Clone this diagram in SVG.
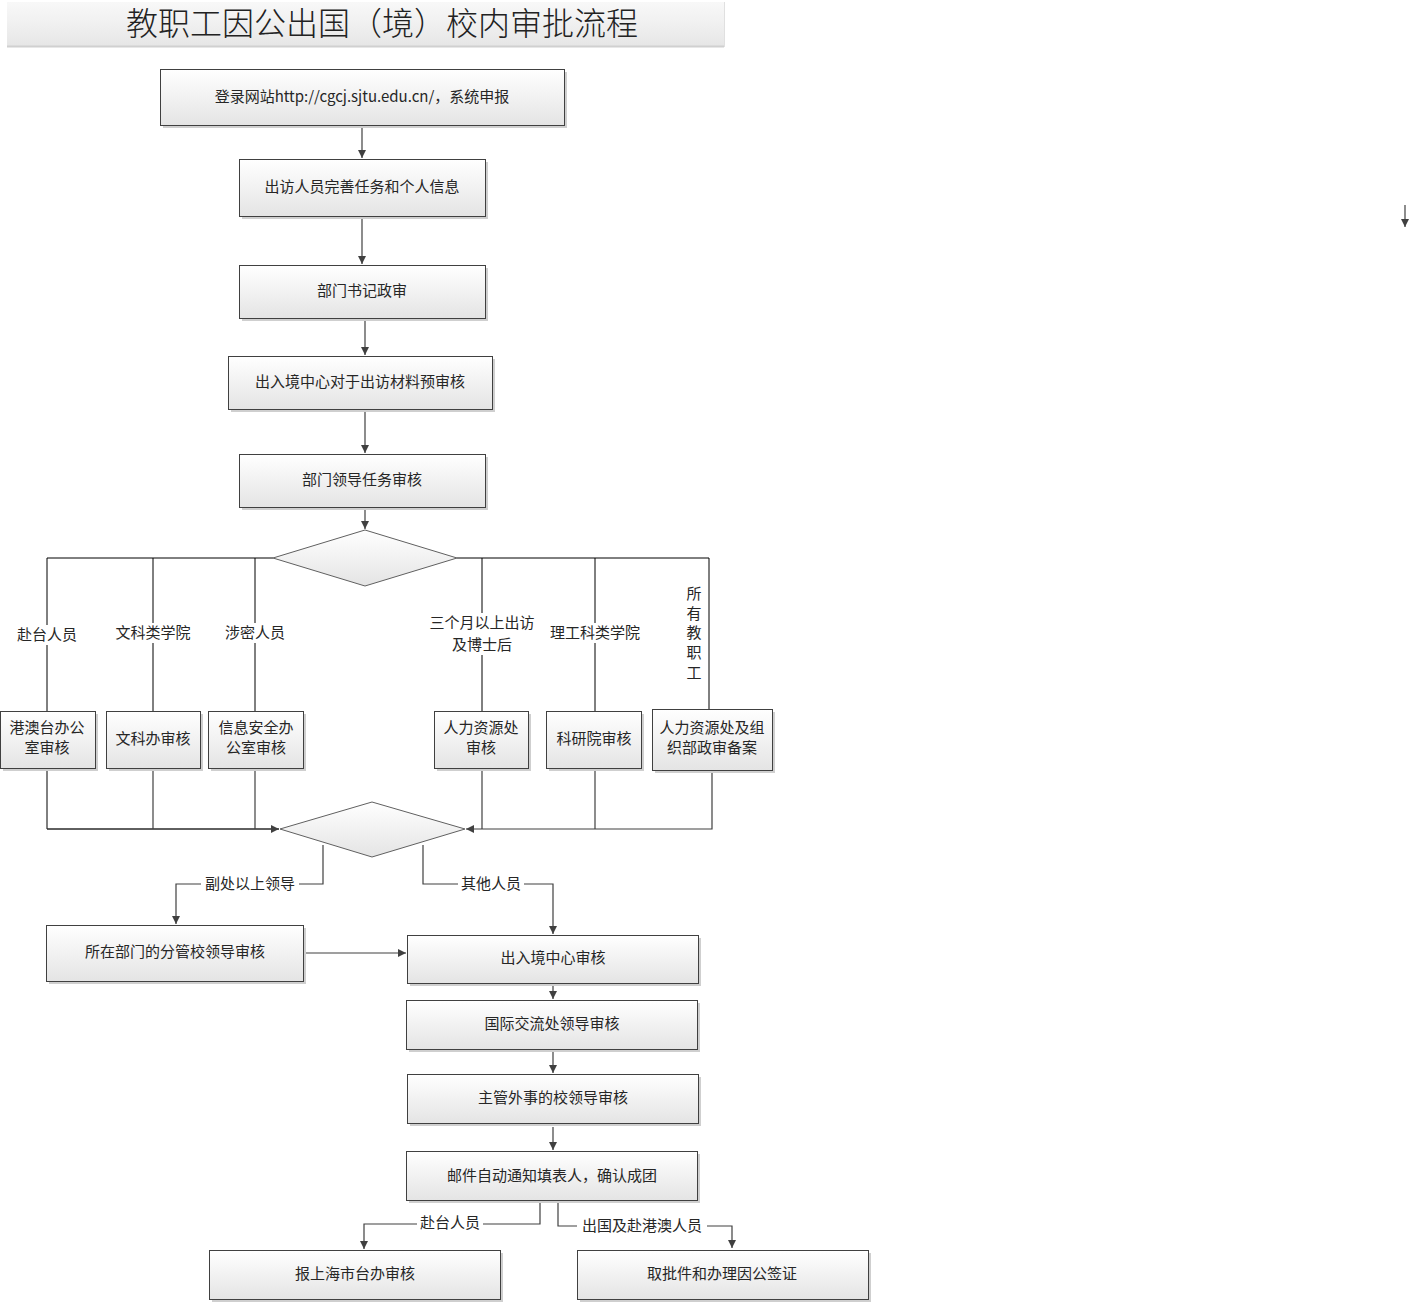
<svg xmlns="http://www.w3.org/2000/svg" width="1411" height="1302" viewBox="0 0 1411 1302">
<defs>
<linearGradient id="gb" x1="0" y1="0" x2="0" y2="1">
<stop offset="0" stop-color="#ffffff"/><stop offset="1" stop-color="#e4e4e4"/>
</linearGradient>
<linearGradient id="gt" x1="0" y1="0" x2="0" y2="1">
<stop offset="0" stop-color="#f8f8f8"/><stop offset="0.5" stop-color="#f0f0f0"/><stop offset="1" stop-color="#e6e6e6"/>
</linearGradient>
<marker id="ah" markerWidth="10" markerHeight="10" refX="8" refY="4" orient="auto" markerUnits="userSpaceOnUse">
<path d="M0,0 L8,4 L0,8 Z" fill="#404040"/>
</marker>
<style>
.box{fill:url(#gb);stroke:#404040;stroke-width:1}
.sh{fill:#cfcfcf}
.dia{fill:url(#gb);stroke:#606060;stroke-width:1}
.t{font-family:"Noto Sans CJK SC","Liberation Sans",sans-serif;font-size:15px;fill:#262626;text-anchor:middle;dominant-baseline:central;transform:translateY(-1.5px)}
.c{fill:none;stroke:#404040;stroke-width:1.2}
.k{fill:none;stroke:#000;stroke-width:1}
.a{marker-end:url(#ah)}
.lb{fill:#fff}
</style>
</defs>
<rect width="1411" height="1302" fill="#fff"/>
<g id="title">
<rect x="7" y="2" width="717" height="44" fill="url(#gt)"/>
<line x1="7" y1="46.5" x2="724" y2="46.5" stroke="#d0d0d0" stroke-width="2"/>
<line x1="724.5" y1="2" x2="724.5" y2="47" stroke="#e0e0e0" stroke-width="1"/>
<text x="382" y="21" style="font-family:'Noto Sans CJK SC','Noto Serif CJK SC',serif;font-size:32px;fill:#222;text-anchor:middle;dominant-baseline:central;font-weight:300">教职工因公出国（境）校内审批流程</text>
</g>

<g id="connectors">
<line class="c a" x1="362" y1="125" x2="362" y2="158"/>
<line class="c a" x1="362" y1="216" x2="362" y2="264"/>
<line class="c a" x1="365" y1="320" x2="365" y2="355"/>
<line class="c a" x1="365" y1="409" x2="365" y2="453"/>
<line class="c a" x1="365" y1="507" x2="365" y2="529"/>
<polyline class="k" points="273,558 47,558 47,711"/>
<line class="k" x1="153" y1="558" x2="153" y2="711"/>
<line class="k" x1="255" y1="558" x2="255" y2="711"/>
<polyline class="k" points="457,558 709,558 709,709"/>
<line class="k" x1="482" y1="558" x2="482" y2="711"/>
<line class="k" x1="595" y1="558" x2="595" y2="711"/>
<rect class="lb" x="14" y="625" width="66" height="20"/>
<rect class="lb" x="112" y="623" width="82" height="20"/>
<rect class="lb" x="222" y="623" width="66" height="20"/>
<rect class="lb" x="425" y="613" width="114" height="42"/>
<rect class="lb" x="546" y="623" width="98" height="20"/>
<rect class="lb" x="685" y="584" width="18" height="100"/>
<polyline class="k" points="47,768 47,829 279,829"/>
<polyline class="c a" points="47,829 279,829"/>
<line class="c" x1="153" y1="768" x2="153" y2="829"/>
<line class="c" x1="255" y1="768" x2="255" y2="829"/>
<polyline class="c a" points="712,770 712,829 466,829"/>
<line class="c" x1="482" y1="768" x2="482" y2="829"/>
<line class="c" x1="595" y1="768" x2="595" y2="829"/>
<polyline class="c a" points="323,845 323,884 176,884 176,924"/>
<polyline class="c a" points="423,845 423,884 553,884 553,934"/>
<rect class="lb" x="201" y="874" width="98" height="20"/>
<rect class="lb" x="458" y="874" width="66" height="20"/>
<line class="c a" x1="303" y1="953" x2="406" y2="953"/>
<line class="c a" x1="553" y1="983" x2="553" y2="999"/>
<line class="c a" x1="553" y1="1049" x2="553" y2="1073"/>
<line class="c a" x1="553" y1="1127" x2="553" y2="1150"/>
<polyline class="c a" points="540,1200 540,1224 364,1224 364,1249"/>
<polyline class="c a" points="558,1200 558,1226 732,1226 732,1248"/>
<rect class="lb" x="417" y="1213" width="66" height="20"/>
<rect class="lb" x="577" y="1216" width="130" height="20"/>
<line class="c a" x1="1405" y1="205" x2="1405" y2="227"/>
</g>

<g id="labels">
<text class="t" x="47" y="635">赴台人员</text>
<text class="t" x="153" y="633">文科类学院</text>
<text class="t" x="255" y="633">涉密人员</text>
<text class="t" x="482" y="623">三个月以上出访</text>
<text class="t" x="482" y="645">及博士后</text>
<text class="t" x="595" y="633">理工科类学院</text>
<text class="t" x="694" y="594">所</text>
<text class="t" x="694" y="614">有</text>
<text class="t" x="694" y="633">教</text>
<text class="t" x="694" y="653">职</text>
<text class="t" x="694" y="673">工</text>
<text class="t" x="250" y="884">副处以上领导</text>
<text class="t" x="491" y="884">其他人员</text>
<text class="t" x="450" y="1223">赴台人员</text>
<text class="t" x="642" y="1226">出国及赴港澳人员</text>
</g>

<g id="n1"><rect class="sh" x="163" y="72" width="404" height="56"/><rect class="box" x="160.5" y="69.5" width="404" height="56"/><text class="t" x="362" y="97">登录网站http://cgcj.sjtu.edu.cn/，系统申报</text></g>
<g id="n2"><rect class="sh" x="242" y="162" width="246" height="57"/><rect class="box" x="239.5" y="159.5" width="246" height="57"/><text class="t" x="362" y="187">出访人员完善任务和个人信息</text></g>
<g id="n3"><rect class="sh" x="242" y="268" width="246" height="53"/><rect class="box" x="239.5" y="265.5" width="246" height="53"/><text class="t" x="362" y="291">部门书记政审</text></g>
<g id="n4"><rect class="sh" x="231" y="359" width="264" height="53"/><rect class="box" x="228.5" y="356.5" width="264" height="53"/><text class="t" x="360" y="382">出入境中心对于出访材料预审核</text></g>
<g id="n5"><rect class="sh" x="242" y="457" width="246" height="53"/><rect class="box" x="239.5" y="454.5" width="246" height="53"/><text class="t" x="362" y="480">部门领导任务审核</text></g>
<g id="d1"><polygon class="dia" points="365,530 457,558 365,586 273,558"/></g>

<g id="b1"><rect class="sh" x="3" y="714" width="95" height="57"/><rect class="box" x="0.5" y="711.5" width="95" height="57"/><text class="t" x="47" y="728">港澳台办公</text><text class="t" x="47" y="748">室审核</text></g>
<g id="b2"><rect class="sh" x="109" y="714" width="94" height="57"/><rect class="box" x="106.5" y="711.5" width="94" height="57"/><text class="t" x="153" y="739">文科办审核</text></g>
<g id="b3"><rect class="sh" x="211" y="714" width="95" height="57"/><rect class="box" x="208.5" y="711.5" width="95" height="57"/><text class="t" x="256" y="728">信息安全办</text><text class="t" x="256" y="748">公室审核</text></g>
<g id="b4"><rect class="sh" x="437" y="714" width="94" height="57"/><rect class="box" x="434.5" y="711.5" width="94" height="57"/><text class="t" x="481" y="728">人力资源处</text><text class="t" x="481" y="748">审核</text></g>
<g id="b5"><rect class="sh" x="549" y="714" width="95" height="57"/><rect class="box" x="546.5" y="711.5" width="95" height="57"/><text class="t" x="594" y="739">科研院审核</text></g>
<g id="b6"><rect class="sh" x="655" y="712" width="120" height="61"/><rect class="box" x="652.5" y="709.5" width="120" height="61"/><text class="t" x="712" y="728">人力资源处及组</text><text class="t" x="712" y="748">织部政审备案</text></g>

<g id="d2"><polygon class="dia" points="372,802 465,829 372,857 280,829"/></g>

<g id="n6"><rect class="sh" x="49" y="928" width="257" height="56"/><rect class="box" x="46.5" y="925.5" width="257" height="56"/><text class="t" x="175" y="952">所在部门的分管校领导审核</text></g>
<g id="n7"><rect class="sh" x="410" y="938" width="291" height="48"/><rect class="box" x="407.5" y="935.5" width="291" height="48"/><text class="t" x="553" y="958">出入境中心审核</text></g>
<g id="n8"><rect class="sh" x="409" y="1003" width="291" height="49"/><rect class="box" x="406.5" y="1000.5" width="291" height="49"/><text class="t" x="552" y="1024">国际交流处领导审核</text></g>
<g id="n9"><rect class="sh" x="410" y="1077" width="291" height="49"/><rect class="box" x="407.5" y="1074.5" width="291" height="49"/><text class="t" x="553" y="1098">主管外事的校领导审核</text></g>
<g id="n10"><rect class="sh" x="409" y="1154" width="291" height="49"/><rect class="box" x="406.5" y="1151.5" width="291" height="49"/><text class="t" x="552" y="1176">邮件自动通知填表人，确认成团</text></g>
<g id="n11"><rect class="sh" x="212" y="1253" width="291" height="49"/><rect class="box" x="209.5" y="1250.5" width="291" height="49"/><text class="t" x="355" y="1274">报上海市台办审核</text></g>
<g id="n12"><rect class="sh" x="580" y="1253" width="291" height="49"/><rect class="box" x="577.5" y="1250.5" width="291" height="49"/><text class="t" x="722" y="1274">取批件和办理因公签证</text></g>
</svg>
